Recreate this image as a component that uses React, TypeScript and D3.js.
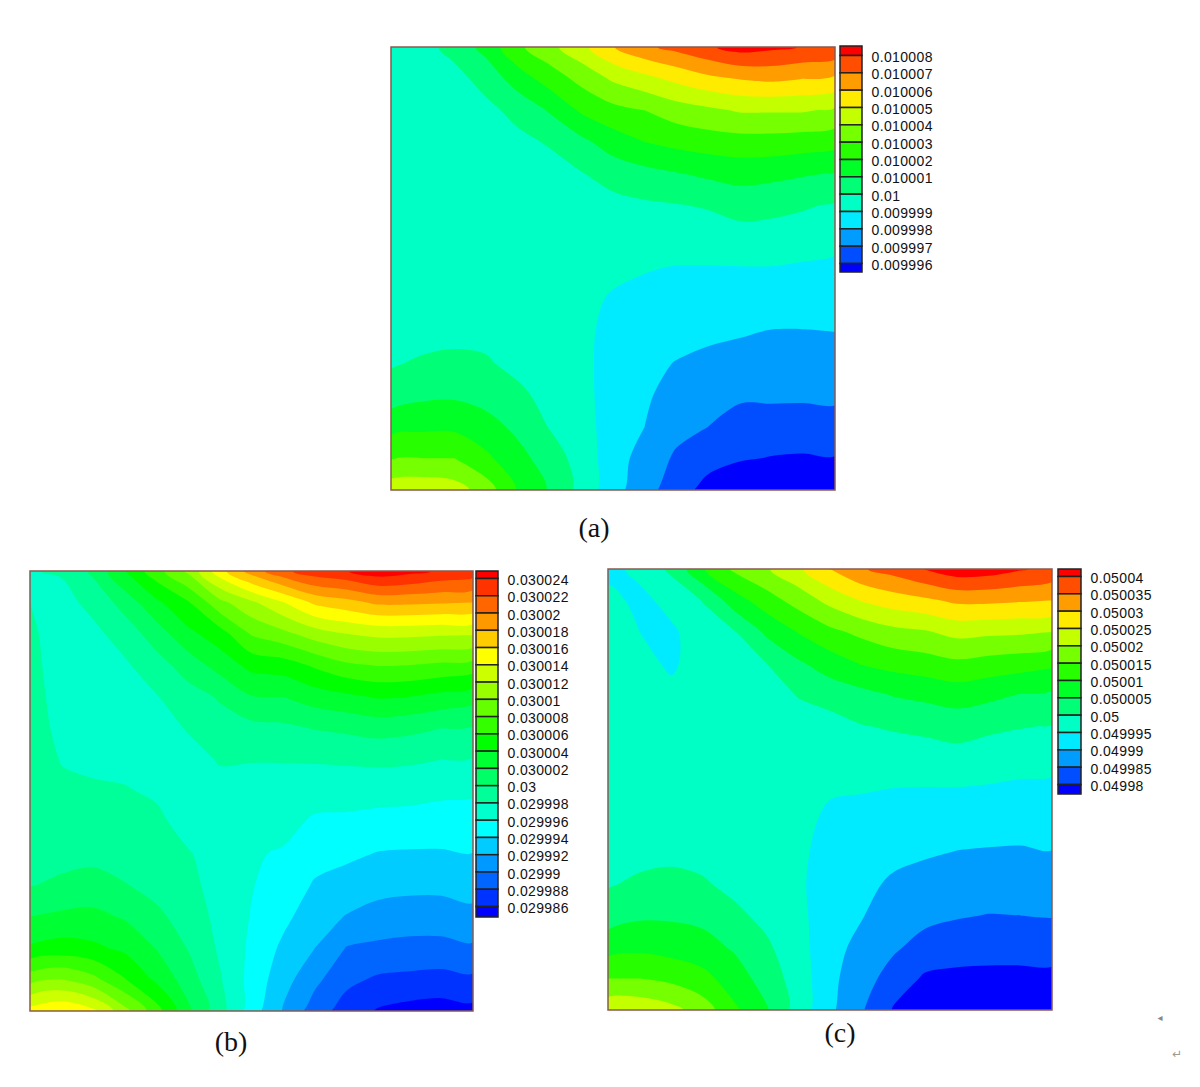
import * as d3 from 'd3';

const WIDTH = 1200;
const HEIGHT = 1087;

// legend labels, top to bottom
const labelsA = ['0.010008', '0.010007', '0.010006', '0.010005', '0.010004', '0.010003', '0.010002', '0.010001', '0.01', '0.009999', '0.009998', '0.009997', '0.009996'];
const labelsB = ['0.030024', '0.030022', '0.03002', '0.030018', '0.030016', '0.030014', '0.030012', '0.03001', '0.030008', '0.030006', '0.030004', '0.030002', '0.03', '0.029998', '0.029996', '0.029994', '0.029992', '0.02999', '0.029988', '0.029986'];
const labelsC = ['0.05004', '0.050035', '0.05003', '0.050025', '0.05002', '0.050015', '0.05001', '0.050005', '0.05', '0.049995', '0.04999', '0.049985', '0.04998'];

// field on a 15x15 grid, top row first,
// in legend steps above the lowest label
const fieldA = [
  [3.5, 3.7, 4.3, 5.35, 6.8, 7.7, 8.7, 9.95, 10.8, 11.3, 11.85, 12.4, 12.2, 11.95, 11.8],
  [3.5, 3.5, 3.7, 4.35, 5.5, 6.45, 7.3, 8.15, 8.7, 9.25, 9.75, 10.05, 10.2, 10.0, 9.8],
  [3.5, 3.5, 3.55, 3.75, 4.3, 5.1, 6.15, 6.7, 7.0, 7.5, 7.8, 8.1, 8.1, 8.1, 7.85],
  [3.5, 3.5, 3.55, 3.55, 3.75, 4.1, 4.75, 5.5, 6.0, 6.3, 6.5, 6.6, 6.6, 6.5, 6.35],
  [3.5, 3.5, 3.55, 3.55, 3.55, 3.6, 3.95, 4.4, 4.7, 4.95, 5.2, 5.4, 5.3, 5.1, 4.95],
  [3.5, 3.5, 3.55, 3.55, 3.5, 3.45, 3.6, 3.7, 3.85, 3.95, 4.1, 4.35, 4.25, 4.1, 3.9],
  [3.5, 3.5, 3.55, 3.55, 3.5, 3.4, 3.4, 3.45, 3.45, 3.5, 3.45, 3.65, 3.65, 3.55, 3.3],
  [3.5, 3.5, 3.55, 3.55, 3.5, 3.4, 3.3, 3.2, 3.05, 2.95, 2.95, 2.95, 2.95, 2.85, 2.8],
  [3.5, 3.5, 3.55, 3.6, 3.55, 3.4, 3.25, 2.9, 2.75, 2.7, 2.65, 2.6, 2.65, 2.55, 2.4],
  [3.6, 3.6, 3.7, 3.75, 3.6, 3.4, 3.2, 2.75, 2.5, 2.4, 2.25, 2.1, 1.95, 1.95, 2.0],
  [3.9, 4.15, 4.25, 4.1, 3.75, 3.5, 3.2, 2.7, 2.3, 1.95, 1.7, 1.6, 1.6, 1.6, 1.6],
  [4.45, 4.8, 4.85, 4.6, 4.2, 3.7, 3.25, 2.65, 2.15, 1.6, 1.3, 1.15, 1.15, 1.15, 1.2],
  [5.7, 5.8, 5.8, 5.4, 4.75, 3.95, 3.4, 2.55, 2.0, 1.3, 1.0, 0.6, 0.6, 0.55, 0.6],
  [6.9, 7.0, 7.0, 6.2, 5.35, 4.5, 3.6, 2.45, 1.6, 0.85, 0.4, 0.1, -0.05, -0.1, -0.05],
  [8.6, 8.7, 8.45, 7.5, 5.9, 4.9, 3.65, 2.4, 1.35, 0.5, -0.4, -0.9, -0.9, -0.9, -0.8],
];

const fieldB = [
  [5.95, 6.1, 7.2, 9.0, 10.6, 12.2, 14.6, 16.45, 17.75, 18.6, 18.95, 19.6, 19.3, 18.85, 18.6],
  [6.0, 5.65, 6.3, 7.4, 8.8, 9.9, 11.7, 12.8, 13.95, 15.2, 15.65, 16.2, 16.2, 16.1, 16.0],
  [6.15, 5.6, 5.75, 6.45, 7.5, 8.75, 9.55, 11.1, 11.7, 12.5, 13.0, 13.25, 13.25, 13.15, 13.1],
  [6.25, 5.6, 5.55, 5.85, 6.6, 7.45, 8.4, 9.3, 9.5, 10.15, 10.8, 11.05, 11.0, 10.8, 10.6],
  [6.35, 5.65, 5.55, 5.5, 5.95, 6.6, 7.1, 7.95, 8.0, 8.5, 8.8, 9.1, 9.0, 8.7, 8.4],
  [6.45, 5.75, 5.65, 5.5, 5.45, 6.1, 6.6, 6.7, 6.8, 7.05, 7.2, 7.4, 7.25, 7.0, 6.9],
  [6.55, 5.95, 5.85, 5.6, 5.3, 5.55, 6.1, 6.05, 6.05, 6.1, 6.15, 6.2, 6.15, 6.0, 5.95],
  [6.7, 6.2, 6.1, 6.1, 5.8, 5.3, 5.6, 5.6, 5.6, 5.4, 5.4, 5.4, 5.35, 5.2, 5.15],
  [6.8, 6.4, 6.3, 6.3, 6.3, 5.5, 5.4, 5.3, 5.3, 4.85, 4.8, 4.65, 4.6, 4.55, 4.55],
  [6.9, 6.65, 6.7, 6.55, 6.45, 6.1, 5.4, 5.1, 4.9, 4.35, 4.2, 3.95, 3.9, 3.9, 3.98],
  [6.95, 7.2, 7.4, 7.05, 6.7, 6.35, 5.5, 5.05, 4.6, 3.9, 3.6, 3.35, 3.25, 3.25, 3.4],
  [8.0, 8.2, 8.25, 7.9, 7.2, 6.6, 5.7, 4.95, 4.25, 3.45, 2.95, 2.6, 2.5, 2.5, 2.7],
  [9.15, 9.4, 9.2, 8.8, 7.95, 6.95, 5.85, 4.8, 3.8, 3.0, 1.95, 1.8, 1.7, 1.7, 1.85],
  [11.6, 12.0, 11.3, 10.05, 8.8, 7.5, 6.1, 4.65, 3.4, 2.25, 1.25, 0.85, 0.75, 0.65, 0.8],
  [14.4, 14.9, 14.2, 12.3, 10.4, 8.2, 6.4, 4.5, 2.9, 1.5, 0.55, -0.1, -0.35, -0.45, -0.3],
];

const fieldC = [
  [2.7, 3.25, 4.2, 5.9, 7.2, 7.9, 8.8, 10.0, 10.9, 11.4, 12.05, 12.6, 12.5, 12.1, 11.7],
  [3.3, 2.75, 3.3, 4.05, 5.55, 6.55, 7.4, 8.3, 9.05, 9.5, 9.8, 10.2, 10.2, 10.1, 10.0],
  [3.5, 3.0, 2.85, 3.5, 3.95, 5.2, 6.05, 6.75, 7.25, 7.7, 7.9, 8.3, 8.2, 8.15, 8.0],
  [3.5, 3.3, 2.85, 3.5, 3.55, 4.0, 4.85, 5.5, 6.05, 6.35, 6.55, 6.8, 6.6, 6.45, 6.2],
  [3.5, 3.45, 3.25, 3.5, 3.5, 3.55, 4.05, 4.4, 4.7, 5.05, 5.25, 5.45, 5.25, 4.95, 4.8],
  [3.5, 3.5, 3.45, 3.5, 3.5, 3.45, 3.55, 3.6, 3.95, 4.1, 4.2, 4.4, 4.2, 4.05, 3.95],
  [3.5, 3.5, 3.5, 3.5, 3.5, 3.45, 3.45, 3.3, 3.45, 3.5, 3.6, 3.65, 3.5, 3.4, 3.3],
  [3.5, 3.5, 3.5, 3.5, 3.5, 3.4, 3.35, 3.1, 3.05, 2.98, 2.95, 2.95, 2.9, 2.8, 2.8],
  [3.5, 3.5, 3.55, 3.5, 3.5, 3.4, 3.3, 2.8, 2.7, 2.65, 2.5, 2.45, 2.4, 2.35, 2.4],
  [3.6, 3.65, 3.75, 3.7, 3.55, 3.4, 3.25, 2.55, 2.45, 2.25, 2.1, 1.97, 1.92, 1.9, 1.97],
  [3.9, 4.2, 4.3, 4.1, 3.75, 3.5, 3.2, 2.4, 2.25, 1.85, 1.65, 1.55, 1.5, 1.45, 1.5],
  [4.55, 4.85, 4.85, 4.7, 4.2, 3.75, 3.3, 2.35, 2.05, 1.5, 1.25, 1.08, 0.97, 1.0, 1.05],
  [5.55, 5.75, 5.6, 5.4, 4.85, 4.15, 3.4, 2.3, 1.75, 1.15, 0.65, 0.45, 0.35, 0.35, 0.4],
  [7.0, 7.0, 6.75, 6.3, 5.5, 4.55, 3.55, 2.25, 1.4, 0.6, -0.15, -0.25, -0.25, -0.25, -0.25],
  [8.7, 8.7, 8.3, 7.5, 6.15, 5.1, 3.55, 2.2, 1.1, -0.1, -1, -1, -1, -1, -1],
];

function Panel({ id, labels, field, plot, legend, caption }) {
  const n = field[0].length;
  const m = field.length;
  const levels = labels.map(Number).reverse();
  const low = levels[0];
  const step = (levels[levels.length - 1] - low) / (levels.length - 1);

  const values = field.flat().map(u => low + u * step);
  const bands = d3.contours().size([n, m]).thresholds(levels)(values);

  // rainbow, blue at the bottom of the range to red at the top
  const hue = d3.scaleLinear().domain([0, levels.length]).range([240, 0]);
  const bandColor = b => d3.hsl(hue(b), 1, 0.5).formatHex();

  // d3.contours puts grid node i at i + 0.5
  const x = d3.scaleLinear().domain([0.5, n - 0.5]).range([plot.x0, plot.x1]);
  const y = d3.scaleLinear().domain([0.5, m - 0.5]).range([plot.y0, plot.y1]);

  // rounded rings; the bits that stick out past the frame get clipped
  const ring = d3.line()
    .x(d => x(d[0]))
    .y(d => y(d[1]))
    .curve(d3.curveCatmullRomClosed.alpha(0.5));
  const bandPath = b => b.coordinates
    .flatMap(poly => poly.map(r => ring(r.slice(0, -1))))
    .join('');

  // legend rows: label k sits on the divider between band k and band k + 1
  const ly = d3.scaleLinear()
    .domain([levels.length - 1, 0])
    .range([legend.first, legend.last]);
  const rowEdges = [legend.y0, ...levels.map((_, k) => ly(levels.length - 1 - k) - 1.5), legend.y1];

  return (
    <g>
      <clipPath id={id}>
        <rect x={plot.x0} y={plot.y0} width={plot.x1 - plot.x0} height={plot.y1 - plot.y0} />
      </clipPath>
      <g clipPath={`url(#${id})`}>
        <rect x={plot.x0} y={plot.y0} width={plot.x1 - plot.x0} height={plot.y1 - plot.y0} fill={bandColor(0)} />
        {bands.map((b, k) => <path key={k} d={bandPath(b)} fill={bandColor(k + 1)} fillRule="evenodd" />)}
      </g>
      <rect x={plot.x0} y={plot.y0} width={plot.x1 - plot.x0} height={plot.y1 - plot.y0}
        fill="none" stroke="#8a5a50" strokeWidth={1.5} />

      {d3.pairs(rowEdges).map(([a, b], k) => (
        <rect key={k} x={legend.x} y={a} width={legend.w} height={b - a}
          fill={bandColor(levels.length - k)} stroke="#222" strokeWidth={1.5} />
      ))}
      {labels.map((t, k) => (
        <text key={t} x={legend.x + legend.w + 9.5} y={ly(levels.length - 1 - k)} dy="0.36em"
          fontFamily="'Liberation Sans', Arial, sans-serif" fontSize={14} fill="#111"
          textLength={legend.charW * (t.length - 0.5)} lengthAdjust="spacing">
          {t}
        </text>
      ))}

      <text x={caption.x} y={caption.y} textAnchor="middle"
        fontFamily="'Liberation Serif', 'Times New Roman', serif" fontSize={28} fill="#111">
        {caption.text}
      </text>
    </g>
  );
}

export default function App() {
  return (
    <svg width={WIDTH} height={HEIGHT} style={{ position: 'absolute', left: 0, top: 0, background: '#fff' }}>
      <Panel id="clip-a" labels={labelsA} field={fieldA}
        plot={{ x0: 391, x1: 835, y0: 47, y1: 490 }}
        legend={{ x: 840, w: 22, y0: 46, y1: 272, first: 57, last: 265, charW: 8.13 }}
        caption={{ x: 594, y: 537, text: '(a)' }} />
      <Panel id="clip-b" labels={labelsB} field={fieldB}
        plot={{ x0: 30, x1: 473, y0: 571, y1: 1011 }}
        legend={{ x: 476, w: 22, y0: 571, y1: 917, first: 580, last: 908, charW: 8.13 }}
        caption={{ x: 231, y: 1051, text: '(b)' }} />
      <Panel id="clip-c" labels={labelsC} field={fieldC}
        plot={{ x0: 608, x1: 1052, y0: 569, y1: 1010 }}
        legend={{ x: 1058, w: 23, y0: 569, y1: 794, first: 578, last: 786, charW: 8.13 }}
        caption={{ x: 840, y: 1042, text: '(c)' }} />
      <text x={1160} y={1021} textAnchor="middle" fontFamily="'DejaVu Sans', sans-serif" fontSize={10} fill="#888">◂</text>
      <text x={1177} y={1058} textAnchor="middle" fontFamily="'DejaVu Sans', sans-serif" fontSize={12} fill="#999">↵</text>
    </svg>
  );
}
